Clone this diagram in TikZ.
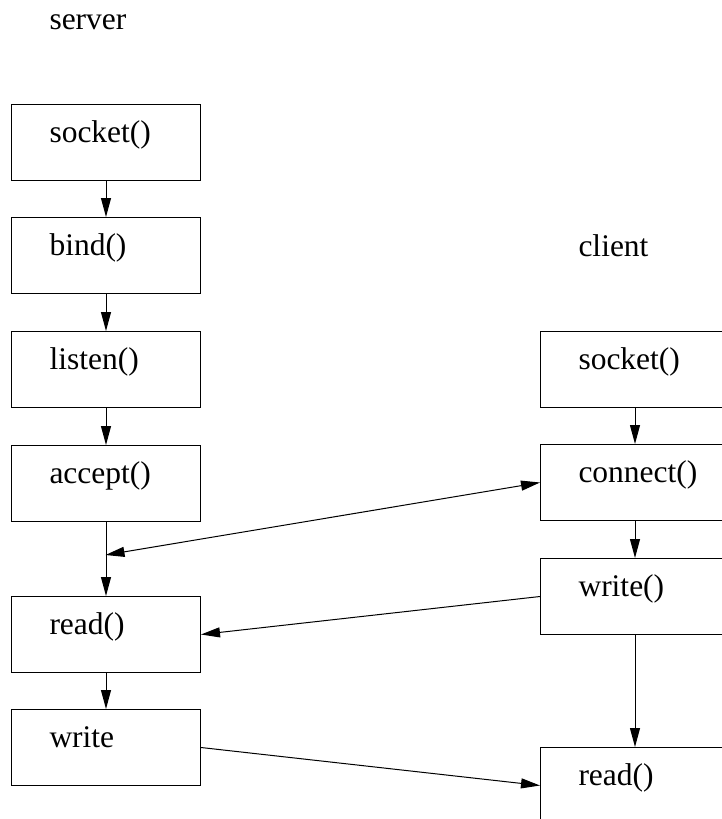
\documentclass[tikz,border=0pt]{standalone}
\usepackage{fontspec}
\setmainfont{Liberation Serif}
\usetikzlibrary{arrows.meta,positioning}

\begin{document}
\begin{tikzpicture}[x=1pt, y=-1pt, ->, >={Triangle[length=19pt,width=10pt]}, line width=1pt]
	\tikzstyle{call}=[draw, anchor=north west, minimum width=189pt, minimum height=76pt, inner xsep=38pt, inner ysep=0pt, text width=113pt, align=left, text height=38pt, text depth=38pt, font=\fontsize{31.5}{36}\selectfont]
	\tikzstyle{side}=[anchor=base west, inner sep=0pt, font=\fontsize{31.5}{36}\selectfont]
	\path[use as bounding box, clip] (0,0) rectangle (722,819);

	\node[side] (server) at (49,29) {server};
	\node[side] (client) at (578,256) {client};

	\node[call] (sSocket) at (11,104) {socket()};
	\node[call] (sBind) at (11,217) {bind()};
	\node[call] (sListen) at (11,331) {listen()};
	\node[call] (sAccept) at (11,445) {accept()};
	\node[call] (sRead) at (11,596) {read()};
	\node[call] (sWrite) at (11,709) {write};

	\node[call] (cSocket) at (540,331) {socket()};
	\node[call] (cConnect) at (540,444) {connect()};
	\node[call] (cWrite) at (540,558) {write()};
	\node[call] (cRead) at (540,747) {read()};

	\coordinate (join) at (105.5,555);

	\path
	(sSocket) edge (sBind)
	(sBind) edge (sListen)
	(sListen) edge (sAccept)
	(sAccept) edge (sRead)
	(sRead) edge (sWrite)

	(cSocket) edge (cConnect)
	(cConnect) edge (cWrite)
	(cWrite) edge (cRead)

	(join) edge[<->] (cConnect.west)
	(cWrite.west) edge (sRead.east)
	(sWrite.east) edge (cRead.west);
\end{tikzpicture}
\end{document}
